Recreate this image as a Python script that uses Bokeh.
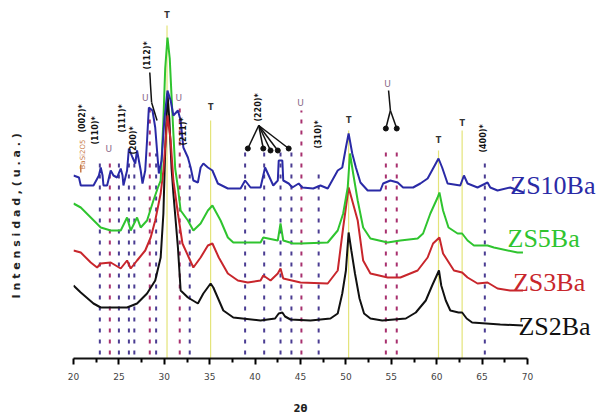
import math
from bokeh.plotting import figure
from bokeh.models import Range1d, FixedTicker
from bokeh.core.properties import value
from bokeh.embed import file_html
from bokeh.resources import INLINE

# ---------------- data (2theta, intensity a.u.) ----------------
tt_ZS2Ba = [20.0, 20.8, 22.2, 23.0, 25.9, 27.0, 28.1, 29.0, 29.6, 29.9, 30.1, 30.35, 30.55, 30.8, 31.0,
            31.5, 31.8, 32.6, 33.7, 34.3, 35.1, 35.4, 36.5, 37.6, 40.6, 42.2, 42.6, 43.0, 43.3, 43.9,
            46.1, 48.3, 49.1, 49.6, 50.0, 50.3, 50.6, 51.0, 51.5, 52.0, 52.7, 54.0, 56.6, 57.7, 58.8,
            59.5, 60.0, 60.25, 60.5, 61.0, 61.5, 62.4, 62.8, 63.3, 63.9, 67.0, 69.5]
I_ZS2Ba = [73, 66, 55, 51, 51, 55, 65, 78, 101, 145, 208, 265, 240, 190, 165,
           111, 68, 61, 55, 65, 75, 71, 48, 41, 38, 40, 45, 46, 42, 39,
           38, 40, 45, 65, 88, 126, 108, 85, 60, 45, 40, 38, 40, 46, 58,
           73, 83, 88, 73, 58, 48, 46, 46, 40, 36, 34, 33]

tt_ZS3Ba = [20.0, 20.8, 21.9, 22.6, 23.0, 24.1, 25.2, 25.9, 26.3, 27.0, 27.9, 28.5, 29.0, 29.6, 29.9,
            30.35, 30.7, 31.0, 31.5, 32.0, 32.7, 33.2, 34.0, 34.8, 35.3, 36.0, 37.0, 38.1, 39.2, 40.6,
            40.9, 41.7, 42.5, 42.8, 43.1, 45.0, 48.0, 49.1, 49.7, 50.3, 51.3, 51.9, 52.7, 54.6, 56.0,
            57.9, 59.0, 59.6, 60.3, 60.7, 61.9, 62.8, 63.4, 64.5, 65.6, 66.7, 68.1, 69.5]
I_ZS3Ba = [108, 106, 96, 91, 95, 96, 90, 98, 90, 98, 108, 121, 138, 165, 188,
           243, 218, 178, 145, 115, 101, 91, 101, 113, 115, 101, 85, 78, 76, 78,
           83, 78, 85, 90, 80, 76, 75, 88, 131, 171, 138, 98, 85, 81, 81,
           88, 101, 115, 121, 105, 88, 86, 81, 75, 76, 70, 68, 68]

tt_ZS5Ba = [20.0, 20.8, 21.9, 23.0, 24.1, 25.2, 25.9, 26.3, 27.0, 27.4, 28.1, 28.8, 29.3, 29.6, 29.9,
            30.1, 30.35, 30.6, 30.8, 31.0, 31.2, 31.5, 31.8, 32.6, 33.2, 34.0, 34.8, 35.3, 36.2, 37.0,
            37.6, 40.6, 40.9, 42.5, 42.8, 43.1, 44.2, 45.0, 48.0, 49.1, 49.7, 50.2, 50.45, 50.8, 51.3,
            51.9, 52.7, 54.6, 56.0, 57.9, 58.5, 59.3, 60.1, 60.3, 60.7, 61.3, 62.3, 62.8, 63.4, 64.1,
            65.6, 66.3, 68.9, 69.5]
I_ZS5Ba = [155, 151, 141, 131, 128, 128, 141, 128, 141, 131, 138, 158, 171, 178, 238,
           290, 321, 300, 262, 225, 190, 171, 148, 138, 128, 135, 148, 153, 138, 121,
           116, 116, 121, 118, 135, 118, 115, 115, 116, 128, 145, 171, 205, 185, 158,
           131, 120, 116, 118, 120, 125, 145, 161, 166, 148, 131, 125, 125, 118, 113,
           113, 111, 106, 106]

tt_ZS10Ba = [20.0, 20.6, 20.8, 22.2, 22.8, 23.0, 23.2, 23.3, 23.7, 24.1, 24.4, 24.8, 25.2, 25.4, 25.5,
             25.9, 26.1, 26.5, 26.8, 27.0, 27.4, 27.6, 27.9, 28.1, 28.3, 28.7, 29.0, 29.4, 29.7, 30.0,
             30.35, 30.7, 31.0, 31.5, 31.8, 32.1, 32.6, 32.9, 33.2, 33.7, 34.0, 34.3, 34.8, 35.3, 35.9,
             37.0, 38.4, 38.9, 39.5, 40.6, 40.9, 41.1, 41.5, 42.0, 42.5, 42.6, 43.0, 43.1, 43.7, 44.1,
             44.8, 45.2, 46.4, 47.2, 48.0, 49.1, 49.6, 50.0, 50.3, 50.7, 51.1, 51.6, 52.4, 53.8, 54.1,
             54.9, 55.7, 56.3, 57.4, 58.2, 59.0, 59.9, 60.2, 60.6, 61.2, 62.6, 63.0, 63.4, 64.5, 65.6,
             65.9, 66.7, 68.1, 69.6]
I_ZS10Ba = [183, 181, 173, 173, 183, 191, 183, 173, 173, 188, 183, 181, 190, 183, 173,
            188, 210, 201, 195, 208, 188, 175, 188, 218, 251, 248, 231, 185, 198, 238,
            268, 258, 243, 248, 238, 211, 201, 191, 178, 176, 191, 195, 191, 188, 175,
            170, 170, 178, 171, 171, 183, 191, 183, 173, 178, 198, 198, 178, 175, 171,
            175, 171, 170, 173, 170, 188, 191, 211, 225, 205, 191, 176, 168, 168, 175,
            178, 176, 171, 171, 175, 180, 195, 200, 191, 175, 173, 183, 175, 171, 176,
            171, 168, 171, 166]

# sample labels
sample_names = ["ZS10Ba", "ZS5Ba", "ZS3Ba", "ZS2Ba"]
sample_colors = ["#2a2aa6", "#2fc42f", "#c8262c", "#111111"]
label_tt = [68.1, 67.8, 68.4, 69.0]
label_I = [173, 120, 76, 32]

# reference lines
T_pos = [30.3, 35.1, 50.3, 60.2, 62.8]
T_top = [333, 238, 228, 208, 228]
T_label_I = [343, 251, 238, 218, 235]
U_pos = [24.0, 28.4, 31.7, 45.1, 54.4, 55.6]
U_top = [198, 250, 255, 248, 211, 208]
U_label_tt = [23.9, 27.9, 31.6, 45.0, 54.6]
U_label_I = [210, 261, 261, 256, 275]
hkl_pos = [22.9, 25.0, 26.1, 26.7, 29.1, 32.8, 38.9, 41.0, 42.8, 44.0, 47.0, 65.3]
hkl_top = [201, 198, 200, 200, 205, 193, 208, 208, 208, 208, 190, 195]
hkl_label_tt = [21.0, 22.4, 25.4, 26.6, 28.1, 32.1, 40.4, 47.0, 65.2]
hkl_label_I = [240, 228, 240, 218, 303, 227, 251, 224, 220]
hkl_label_txt = ["(002)*", "(110)*", "(111)*", "(200)*", "(112)*", "(211)*", "(220)*", "(310)*", "(400)*"]

x_ticks = [20, 25, 30, 35, 40, 45, 50, 55, 60, 65, 70]
x_minor = [22.5, 27.5, 32.5, 37.5, 42.5, 47.5, 52.5, 57.5, 62.5, 67.5]

NB = "\u00a0"

# ---------------- figure ----------------
W, H = 600, 417
FL, FB = 73, 358          # frame left / bottom in px
PX_PER_DEG = 9.08
p = figure(width=W, height=H, output_backend="svg", toolbar_location=None,
           x_range=Range1d(20, 20 + (W - FL) / PX_PER_DEG), y_range=Range1d(0, FB),
           min_border_left=FL, min_border_right=0, min_border_top=0, min_border_bottom=H - FB)
p.outline_line_color = None
p.xgrid.visible = False
p.ygrid.visible = False
p.background_fill_color = "white"

xa = p.xaxis[0]
xa.bounds = (20, 70)
xa.ticker = FixedTicker(ticks=x_ticks, minor_ticks=x_minor)
xa.axis_line_width = 2
xa.axis_line_color = "#111111"
xa.major_tick_in = 0
xa.major_tick_out = 6
xa.minor_tick_in = 0
xa.minor_tick_out = 4
xa.major_tick_line_width = 2
xa.minor_tick_line_width = 2
xa.major_label_text_font = "DejaVu Sans"
xa.major_label_text_font_size = "9px"
xa.major_label_text_color = "#444444"
xa.major_label_standoff = 8
xa.axis_label = "2θ" + NB * 21
xa.axis_label_text_font = "DejaVu Sans"
xa.axis_label_text_font_size = "10px"
xa.axis_label_text_font_style = "bold"
xa.axis_label_text_color = "#222222"
xa.axis_label_standoff = 20

ya = p.yaxis[0]
ya.ticker = FixedTicker(ticks=[])
ya.axis_line_color = None
ya.major_tick_line_color = None
ya.minor_tick_line_color = None
ya.major_label_text_font_size = "0px"
ya.axis_label = "I n t e n s i d a d ,  ( u . a . )" + NB * 18
ya.axis_label_text_font = "DejaVu Sans"
ya.axis_label_text_font_size = "11px"
ya.axis_label_text_font_style = "bold"
ya.axis_label_text_color = "#222222"
ya.axis_label_standoff = 51

# reference vertical lines
p.segment(x0=T_pos, y0=[0] * len(T_pos), x1=T_pos, y1=T_top, line_color="#e4e47a", line_width=1.2)
p.segment(x0=hkl_pos, y0=[4] * len(hkl_pos), x1=hkl_pos, y1=hkl_top, line_color="#4a3c92",
          line_width=2, line_dash="4 7")
p.segment(x0=U_pos, y0=[4] * len(U_pos), x1=U_pos, y1=U_top, line_color="#a8306e",
          line_width=2, line_dash="4 7")

# curves
p.line(tt_ZS2Ba, I_ZS2Ba, line_color=sample_colors[3], line_width=2)
p.line(tt_ZS3Ba, I_ZS3Ba, line_color=sample_colors[2], line_width=2)
p.line(tt_ZS5Ba, I_ZS5Ba, line_color=sample_colors[1], line_width=2)
p.line(tt_ZS10Ba, I_ZS10Ba, line_color=sample_colors[0], line_width=2)

# sample labels
p.text(x=label_tt, y=label_I, text=sample_names, text_color=sample_colors,
       text_font=value("Liberation Serif"), text_font_size="26px",
       text_align="left", text_baseline="middle")

# phase labels
p.text(x=T_pos, y=T_label_I, text=["T"] * len(T_pos), text_color="#333333",
       text_font=value("DejaVu Sans"), text_font_size="8px", text_font_style="bold",
       text_align="center", text_baseline="middle")
p.text(x=U_label_tt, y=U_label_I, text=["U"] * len(U_label_tt), text_color="#8a6a8a",
       text_font=value("DejaVu Sans"), text_font_size="9px",
       text_align="center", text_baseline="middle")
p.text(x=hkl_label_tt, y=hkl_label_I, text=hkl_label_txt, text_color="#111111",
       angle=math.pi / 2, text_font=value("DejaVu Sans"), text_font_size="8px",
       text_font_style="bold", text_align="center", text_baseline="middle")
p.text(x=[21.0], y=[204], text=["BaSi2O5"], text_color="#c87a4a", angle=math.pi / 2,
       text_font=value("DejaVu Sans"), text_font_size="7px",
       text_align="center", text_baseline="middle")

# arrows
arrow_x0 = [20.8, 28.4, 28.6, 40.4, 40.4, 40.4, 40.4, 40.4, 54.7, 54.9, 54.9]
arrow_y0 = [194, 286, 256, 233, 233, 233, 233, 233, 268, 248, 248]
arrow_x1 = [20.8, 28.6, 29.2, 39.2, 40.9, 41.7, 42.5, 43.7, 54.9, 54.4, 55.6]
arrow_y1 = [186, 256, 238, 210, 210, 208, 208, 210, 248, 230, 230]
p.segment(x0=arrow_x0, y0=arrow_y0, x1=arrow_x1, y1=arrow_y1,
          line_color=["#c87a4a"] + ["#111111"] * 10, line_width=1.5)
p.scatter(x=arrow_x1[3:8] + arrow_x1[9:], y=arrow_y1[3:8] + arrow_y1[9:], size=5,
          color="#111111", marker="circle")

open("out.html", "w").write(file_html(p, INLINE))
